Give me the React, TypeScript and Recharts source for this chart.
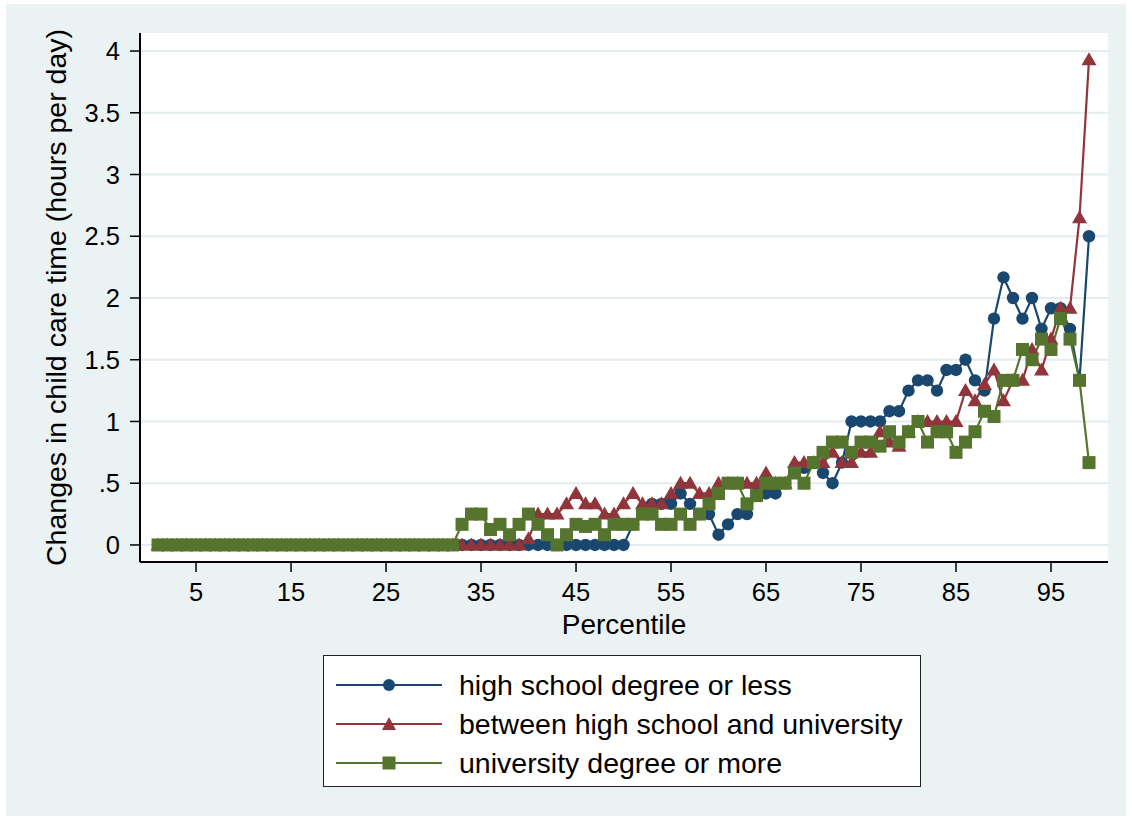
import { LineChart, Line, XAxis, YAxis, CartesianGrid } from "recharts";

// Percentile 1..99 on the x axis
const percentiles = Array.from({ length: 99 }, (_, i) => i + 1);

// Values (hours per day), one per percentile
const highSchool = [
  0, 0, 0, 0, 0, 0, 0, 0, 0, 0,
  0, 0, 0, 0, 0, 0, 0, 0, 0, 0,
  0, 0, 0, 0, 0, 0, 0, 0, 0, 0,
  0, 0, 0, 0, 0, 0, 0, 0, 0, 0,
  0, 0, 0, 0, 0, 0, 0, 0, 0, 0,
  0.167, 0.25, 0.333, 0.333, 0.333, 0.417, 0.333, 0.25, 0.25, 0.083,
  0.167, 0.25, 0.25, 0.417, 0.417, 0.417, 0.5, 0.583, 0.625, 0.667,
  0.583, 0.5, 0.667, 1.0, 1.0, 1.0, 1.0, 1.083, 1.083, 1.25,
  1.333, 1.333, 1.25, 1.417, 1.417, 1.5, 1.333, 1.25, 1.833, 2.167,
  2.0, 1.833, 2.0, 1.75, 1.917, 1.917, 1.75, 1.333, 2.5,
];

const between = [
  0, 0, 0, 0, 0, 0, 0, 0, 0, 0,
  0, 0, 0, 0, 0, 0, 0, 0, 0, 0,
  0, 0, 0, 0, 0, 0, 0, 0, 0, 0,
  0, 0, 0, 0, 0, 0, 0, 0, 0, 0.05,
  0.25, 0.25, 0.25, 0.333, 0.417, 0.333, 0.333, 0.25, 0.25, 0.333,
  0.417, 0.333, 0.333, 0.333, 0.417, 0.5, 0.5, 0.417, 0.417, 0.5,
  0.5, 0.5, 0.5, 0.5, 0.583, 0.5, 0.5, 0.667, 0.667, 0.667,
  0.667, 0.75, 0.667, 0.667, 0.75, 0.75, 0.917, 0.833, 0.8, 0.917,
  1.0, 1.0, 1.0, 1.0, 1.0, 1.25, 1.167, 1.3, 1.417, 1.167,
  1.333, 1.333, 1.583, 1.417, 1.667, 1.917, 1.917, 2.65, 3.93,
];

const university = [
  0, 0, 0, 0, 0, 0, 0, 0, 0, 0,
  0, 0, 0, 0, 0, 0, 0, 0, 0, 0,
  0, 0, 0, 0, 0, 0, 0, 0, 0, 0,
  0, 0, 0.167, 0.25, 0.25, 0.125, 0.167, 0.083, 0.167, 0.25,
  0.167, 0.083, 0, 0.083, 0.167, 0.15, 0.167, 0.083, 0.167, 0.167,
  0.167, 0.25, 0.25, 0.167, 0.167, 0.25, 0.167, 0.25, 0.333, 0.417,
  0.5, 0.5, 0.333, 0.4, 0.5, 0.5, 0.5, 0.583, 0.5, 0.667,
  0.75, 0.833, 0.833, 0.75, 0.833, 0.833, 0.8, 0.917, 0.833, 0.917,
  1.0, 0.833, 0.917, 0.917, 0.75, 0.833, 0.917, 1.083, 1.04, 1.333,
  1.333, 1.583, 1.5, 1.667, 1.583, 1.833, 1.667, 1.333, 0.667,
];

const xTicks = [5, 15, 25, 35, 45, 55, 65, 75, 85, 95];
const yTicks = [0, 0.5, 1, 1.5, 2, 2.5, 3, 3.5, 4];

const seriesNames = [
  "high school degree or less",
  "between high school and university",
  "university degree or more",
];

const NAVY = "#1A476F";
const MAROON = "#90353B";
const GREEN = "#55752F";
const BG = "#EAF2F3";
const FONT = "'Liberation Sans', Arial, sans-serif";

const data = percentiles.map((p, i) => ({
  p,
  hs: highSchool[i],
  mid: between[i],
  uni: university[i],
}));

const fmtY = (v: number) => (v === 0 ? "0" : v === 0.5 ? ".5" : String(v));

function circle(props: any) {
  const { cx, cy, index } = props;
  return <circle key={`c${index}`} cx={cx} cy={cy} r={6.2} fill={NAVY} />;
}

function triangle(props: any) {
  const { cx, cy, index } = props;
  const pts = `${cx},${cy - 7.5} ${cx - 7.5},${cy + 5.5} ${cx + 7.5},${cy + 5.5}`;
  return <polygon key={`t${index}`} points={pts} fill={MAROON} />;
}

function square(props: any) {
  const { cx, cy, index } = props;
  return <rect key={`s${index}`} x={cx - 6.5} y={cy - 6.5} width={13} height={13} fill={GREEN} />;
}

function YTitle(props: any) {
  const vb = props.viewBox;
  const x = vb.x - 24;
  const y = vb.y + vb.height / 2;
  return (
    <text
      x={x}
      y={y}
      transform={`rotate(-90, ${x}, ${y})`}
      textAnchor="middle"
      dominantBaseline="central"
      fontSize={28.5}
      fontFamily={FONT}
      fill="#000"
    >
      Changes in child care time (hours per day)
    </text>
  );
}

function XTitle(props: any) {
  const vb = props.viewBox;
  return (
    <text
      x={vb.x + vb.width / 2}
      y={634}
      textAnchor="middle"
      fontSize={28}
      fontFamily={FONT}
      fill="#000"
    >
      Percentile
    </text>
  );
}

function LegendIcon({ kind, color }: { kind: string; color: string }) {
  return (
    <svg width={110} height={30} style={{ position: "absolute", left: 10, top: 0 }}>
      <line x1={2} y1={15} x2={108} y2={15} stroke={color} strokeWidth={2} />
      {kind === "circle" && <circle cx={55} cy={15} r={6} fill={color} />}
      {kind === "triangle" && <polygon points="55,8 48,21 62,21" fill={color} />}
      {kind === "square" && <rect x={48.5} y={8.5} width={13} height={13} fill={color} />}
    </svg>
  );
}

export default function App() {
  const legendRows = [
    { name: seriesNames[0], color: NAVY, kind: "circle" },
    { name: seriesNames[1], color: MAROON, kind: "triangle" },
    { name: seriesNames[2], color: GREEN, kind: "square" },
  ];
  return (
    <div style={{ position: "absolute", left: 0, top: 0, width: 1132, height: 822, background: "#fff" }}>
      <div style={{ position: "absolute", left: 6, top: 4, width: 1120, height: 812, background: BG }} />
      <div style={{ position: "absolute", left: 0, top: 0 }}>
        <LineChart width={1132} height={822} data={data} margin={{ top: 33, right: 24, left: 80, bottom: 180 }}>
          <CartesianGrid vertical={false} fill="#fff" stroke="#E3ECEE" strokeWidth={2} horizontalValues={yTicks} />
          <XAxis
            type="number"
            dataKey="p"
            domain={[-0.9, 101]}
            ticks={xTicks}
            allowDataOverflow
            height={80}
            tickSize={10}
            tickMargin={11}
            axisLine={{ stroke: "#000", strokeWidth: 2 }}
            tickLine={{ stroke: "#000", strokeWidth: 1.5 }}
            tick={{ fill: "#000", fontSize: 25.5, fontFamily: FONT }}
            label={XTitle}
          />
          <YAxis
            type="number"
            domain={[-0.138, 4.146]}
            ticks={yTicks}
            allowDataOverflow
            width={60}
            tickSize={10}
            tickMargin={10}
            tickFormatter={fmtY}
            axisLine={{ stroke: "#000", strokeWidth: 2 }}
            tickLine={{ stroke: "#000", strokeWidth: 1.5 }}
            tick={{ fill: "#000", fontSize: 25.5, fontFamily: FONT }}
            label={YTitle}
          />
          <Line dataKey="hs" name={seriesNames[0]} stroke={NAVY} strokeWidth={2.2} dot={circle} activeDot={false} isAnimationActive={false} />
          <Line dataKey="mid" name={seriesNames[1]} stroke={MAROON} strokeWidth={2.2} dot={triangle} activeDot={false} isAnimationActive={false} />
          <Line dataKey="uni" name={seriesNames[2]} stroke={GREEN} strokeWidth={2.2} dot={square} activeDot={false} isAnimationActive={false} />
        </LineChart>
      </div>
      <div
        style={{
          position: "absolute",
          left: 323,
          top: 655,
          width: 598,
          height: 132,
          boxSizing: "border-box",
          border: "1.5px solid #222",
          background: "#fff",
          fontFamily: FONT,
          fontSize: 28.5,
          color: "#000",
        }}
      >
        {legendRows.map((r, i) => (
          <div key={r.name} style={{ position: "absolute", left: 0, top: 14 + i * 39, width: "100%", height: 30 }}>
            <LegendIcon kind={r.kind} color={r.color} />
            <span style={{ position: "absolute", left: 135, top: 0, lineHeight: "30px", whiteSpace: "nowrap" }}>{r.name}</span>
          </div>
        ))}
      </div>
    </div>
  );
}
